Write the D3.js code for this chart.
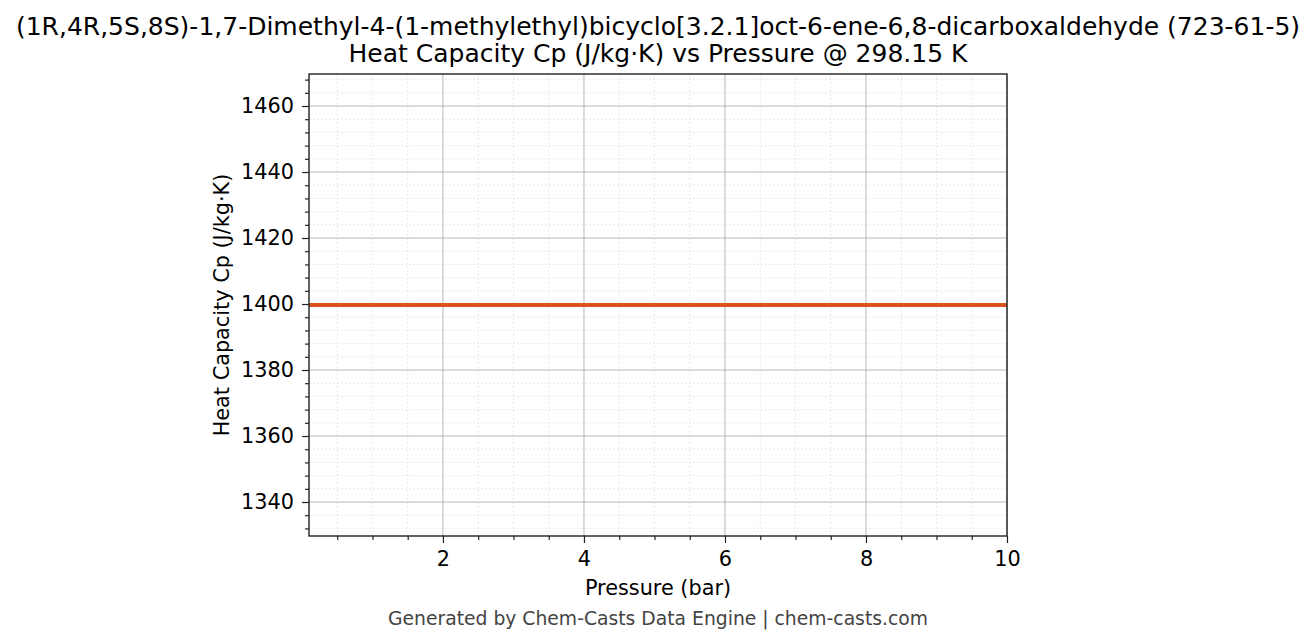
<!DOCTYPE html>
<html>
<head>
<meta charset="utf-8">
<script src="https://cdn.jsdelivr.net/npm/d3@7"></script>
<style>
  body { margin: 0; background: #fff; }
  text { font-family: "DejaVu Sans", sans-serif; }
</style>
</head>
<body>
<svg id="chart" width="1316" height="644"></svg>
<script>
// data
const pressure = [0.1, 1, 2, 3, 4, 5, 6, 7, 8, 9, 10]
const cp = [1399.7, 1399.7, 1399.7, 1399.7, 1399.7, 1399.7, 1399.7, 1399.7, 1399.7, 1399.7, 1399.7]
const xTicks = [2, 4, 6, 8, 10]
const yTicks = [1340, 1360, 1380, 1400, 1420, 1440, 1460]

const svg = d3.select("#chart")
const plotL = 309, plotR = 1007, plotT = 74, plotB = 536

const x = d3.scaleLinear().domain([0.1, 10]).range([plotL, plotR])
const y = d3.scaleLinear().domain([1329.7, 1469.7]).range([plotB, plotT])

const xMinor = d3.range(0.5, 10.01, 0.5).filter(v => !xTicks.includes(v))
const yMinor = d3.range(1332, 1469, 4).filter(v => !yTicks.includes(v))

// minor grid
const grid = svg.append("g")
grid.selectAll(".xm").data(xMinor).enter().append("line")
    .attr("x1", d => x(d)).attr("x2", d => x(d))
    .attr("y1", plotT).attr("y2", plotB)
    .attr("stroke", "#e3e3e3").attr("stroke-width", 0.8).attr("stroke-dasharray", "2,2")
grid.selectAll(".ym").data(yMinor).enter().append("line")
    .attr("y1", d => y(d)).attr("y2", d => y(d))
    .attr("x1", plotL).attr("x2", plotR)
    .attr("stroke", "#e3e3e3").attr("stroke-width", 0.8).attr("stroke-dasharray", "2,2")
// major grid
grid.selectAll(".xg").data(xTicks).enter().append("line")
    .attr("x1", d => x(d)).attr("x2", d => x(d))
    .attr("y1", plotT).attr("y2", plotB)
    .attr("stroke", "#b0b0b0").attr("stroke-width", 0.9)
grid.selectAll(".yg").data(yTicks).enter().append("line")
    .attr("y1", d => y(d)).attr("y2", d => y(d))
    .attr("x1", plotL).attr("x2", plotR)
    .attr("stroke", "#b0b0b0").attr("stroke-width", 0.9)

// data line
const line = d3.line().x((d, i) => x(pressure[i])).y(d => y(d))
svg.append("path").datum(cp)
    .attr("d", line)
    .attr("fill", "none")
    .attr("stroke", "#d9531e")
    .attr("stroke-width", 3.8)

// axes
svg.append("g").attr("transform", `translate(0,${plotB})`)
    .call(d3.axisBottom(x).tickValues(xTicks).tickSize(7).tickPadding(8).tickFormat(d3.format("d")))
svg.append("g").attr("transform", `translate(0,${plotB})`)
    .call(d3.axisBottom(x).tickValues(xMinor).tickSize(4).tickFormat(""))
svg.append("g").attr("transform", `translate(${plotL},0)`)
    .call(d3.axisLeft(y).tickValues(yTicks).tickSize(7).tickPadding(8).tickFormat(d3.format("d")))
svg.append("g").attr("transform", `translate(${plotL},0)`)
    .call(d3.axisLeft(y).tickValues(yMinor).tickSize(4).tickFormat(""))

svg.selectAll(".domain").remove()
svg.selectAll(".tick line").attr("stroke", "#222").attr("stroke-width", 1.2)
svg.selectAll(".tick text").attr("font-size", 20.8).attr("fill", "#000")

// frame
svg.append("rect")
    .attr("x", plotL).attr("y", plotT)
    .attr("width", plotR - plotL).attr("height", plotB - plotT)
    .attr("fill", "none").attr("stroke", "#222").attr("stroke-width", 1.4)

// titles
svg.append("text").attr("x", 658).attr("y", 35).attr("text-anchor", "middle")
    .attr("font-size", 25).attr("fill", "#000")
    .text("(1R,4R,5S,8S)-1,7-Dimethyl-4-(1-methylethyl)bicyclo[3.2.1]oct-6-ene-6,8-dicarboxaldehyde (723-61-5)")
svg.append("text").attr("x", 658).attr("y", 62).attr("text-anchor", "middle")
    .attr("font-size", 25).attr("fill", "#000")
    .text("Heat Capacity Cp (J/kg·K) vs Pressure @ 298.15 K")

svg.append("text").attr("x", (plotL + plotR) / 2).attr("y", 595).attr("text-anchor", "middle")
    .attr("font-size", 20.8).attr("fill", "#000")
    .text("Pressure (bar)")
svg.append("text")
    .attr("transform", `translate(229,${(plotT + plotB) / 2}) rotate(-90)`)
    .attr("text-anchor", "middle")
    .attr("font-size", 20.8).attr("fill", "#000")
    .text("Heat Capacity Cp (J/kg·K)")

svg.append("text").attr("x", 658).attr("y", 625).attr("text-anchor", "middle")
    .attr("font-size", 18.75).attr("fill", "#444")
    .text("Generated by Chem-Casts Data Engine | chem-casts.com")
</script>
</body>
</html>
